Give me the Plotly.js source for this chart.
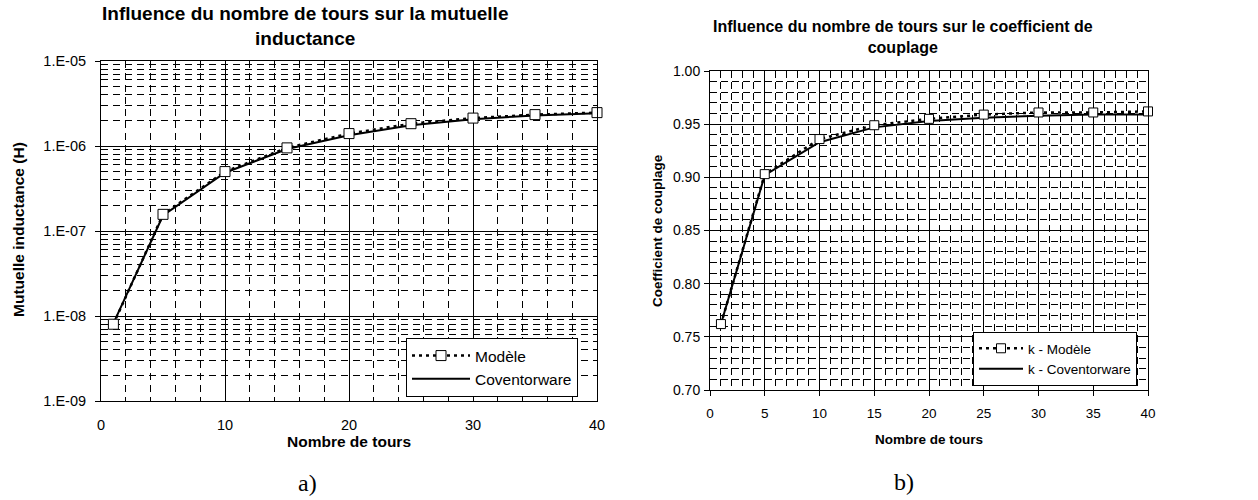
<!DOCTYPE html>
<html>
<head>
<meta charset="utf-8">
<script src="https://cdn.plot.ly/plotly-3.0.1.min.js"></script>
<style>
  html, body { margin: 0; padding: 0; background: #fff; }
  #chart { width: 1258px; height: 500px; }
</style>
</head>
<body>
<div id="chart"></div>
<script>
// ---- Data ----
const turns = [1, 5, 10, 15, 20, 25, 30, 35, 40];
const mutualModel = [8.0e-9, 1.57e-7, 5.0e-7, 9.5e-7, 1.40e-6, 1.83e-6, 2.13e-6, 2.34e-6, 2.47e-6];
const mutualCoventor = [8.2e-9, 1.52e-7, 4.85e-7, 9.2e-7, 1.34e-6, 1.75e-6, 2.06e-6, 2.29e-6, 2.43e-6];
const kModel = [0.762, 0.903, 0.936, 0.949, 0.955, 0.959, 0.961, 0.961, 0.962];
const kCoventor = [0.762, 0.902, 0.933, 0.947, 0.953, 0.956, 0.958, 0.959, 0.959];

const logTickVals = [1e-9, 1e-8, 1e-7, 1e-6, 1e-5];
const logTickText = ['1.E-09', '1.E-08', '1.E-07', '1.E-06', '1.E-05'];
const xTicksA = [0, 10, 20, 30, 40];
const xTicksB = [0, 5, 10, 15, 20, 25, 30, 35, 40];
const yTicksB = [0.70, 0.75, 0.80, 0.85, 0.90, 0.95, 1.00];

const seriesNamesA = ['Modèle', 'Coventorware'];
const seriesNamesB = ['k - Modèle', 'k - Coventorware'];
const titleA = 'Influence du nombre de tours sur la mutuelle<br>inductance';
const titleB = 'Influence du nombre de tours sur le coefficient de<br>couplage';
const yTitleA = 'Mutuelle inductance (H)';
const yTitleB = 'Coefficient de couplage';
const xTitle = 'Nombre de tours';
const panelLabels = ['a)', 'b)'];

// ---- Helpers (pixel -> paper) ----
const W = 1258, H = 500;
const px = v => v / W;
const py = v => 1 - v / H;

const FONT = 'Arial, "Liberation Sans", Helvetica, sans-serif';

const modelLine = { color: '#000', width: 2.5, dash: '3px,4px' };
const covLine = { color: '#000', width: 2 };
const sqMarker = s => ({ symbol: 'square', size: s, color: '#fff', line: { color: '#000', width: 1 } });

const traces = [
  { x: turns, y: mutualModel, name: seriesNamesA[0], mode: 'lines+markers', line: modelLine, marker: sqMarker(10), cliponaxis: false, xaxis: 'x', yaxis: 'y', legend: 'legend' },
  { x: turns, y: mutualCoventor, name: seriesNamesA[1], mode: 'lines', line: covLine, xaxis: 'x', yaxis: 'y', legend: 'legend' },
  { x: turns, y: kModel, name: seriesNamesB[0], mode: 'lines+markers', line: modelLine, marker: sqMarker(9), cliponaxis: false, xaxis: 'x2', yaxis: 'y2', legend: 'legend2' },
  { x: turns, y: kCoventor, name: seriesNamesB[1], mode: 'lines', line: covLine, xaxis: 'x2', yaxis: 'y2', legend: 'legend2' }
];
// draw model on top
const ordered = [traces[1], traces[0], traces[3], traces[2]];

const gridDash = '7px,5px';
const common = {
  showline: true, mirror: true, linecolor: '#000', linewidth: 1,
  showgrid: true, gridcolor: '#000', gridwidth: 1,
  zeroline: false, fixedrange: true,
  tickcolor: '#000'
};

const layout = {
  width: W, height: H,
  margin: { l: 0, r: 0, t: 0, b: 0 },
  paper_bgcolor: '#fff', plot_bgcolor: '#fff',
  font: { family: FONT, color: '#000' },
  showlegend: true,
  xaxis: Object.assign({}, common, {
    domain: [px(101), px(597)], anchor: 'y', range: [0, 40],
    tickmode: 'array', tickvals: xTicksA, ticks: '',
    ticklabelstandoff: 11,
    tickfont: { size: 14.5 },
    minor: { dtick: 2, showgrid: true, gridcolor: '#000', gridwidth: 1, griddash: gridDash }
  }),
  yaxis: Object.assign({}, common, {
    domain: [py(401), py(61)], anchor: 'x', type: 'log', range: [-9, -5],
    tickmode: 'array', tickvals: logTickVals, ticktext: logTickText,
    ticks: 'outside', ticklen: 5, ticklabelstandoff: 6,
    tickfont: { size: 14.5 },
    minor: { dtick: 'D1', showgrid: true, gridcolor: '#000', gridwidth: 1, griddash: gridDash }
  }),
  xaxis2: Object.assign({}, common, {
    domain: [px(710), px(1148)], anchor: 'y2', range: [0, 40],
    tickmode: 'array', tickvals: xTicksB, ticks: 'outside', ticklen: 5,
    ticklabelstandoff: 6,
    tickfont: { size: 13.5 },
    minor: { dtick: 1, showgrid: true, gridcolor: '#000', gridwidth: 1, griddash: '7px,4px' }
  }),
  yaxis2: Object.assign({}, common, {
    domain: [py(390), py(71)], anchor: 'x2', range: [0.70, 1.00],
    tickmode: 'array', tickvals: yTicksB, tickformat: '.2f',
    ticks: 'outside', ticklen: 5, ticklabelstandoff: 1,
    tickfont: { size: 14 },
    minor: { dtick: 0.01, showgrid: true, gridcolor: '#000', gridwidth: 1, griddash: '7px,4px' }
  }),
  legend: {
    x: px(406), y: py(338), xanchor: 'left', yanchor: 'top',
    xref: 'paper', yref: 'paper',
    bgcolor: '#fff', bordercolor: '#000', borderwidth: 1,
    font: { size: 15.5, family: FONT }, itemwidth: 58, tracegroupgap: 0,
    traceorder: 'reversed'
  },
  legend2: {
    x: px(973), y: py(332), xanchor: 'left', yanchor: 'top',
    xref: 'paper', yref: 'paper',
    bgcolor: '#fff', bordercolor: '#000', borderwidth: 1,
    font: { size: 13.5, family: FONT }, itemwidth: 44, tracegroupgap: 0,
    traceorder: 'reversed'
  },
  annotations: [
    { text: '<b>' + titleA + '</b>', xref: 'paper', yref: 'paper', x: px(305), y: py(1), xanchor: 'center', yanchor: 'top', showarrow: false, font: { size: 19, family: FONT } },
    { text: '<b>' + titleB + '</b>', xref: 'paper', yref: 'paper', x: px(903), y: py(16), xanchor: 'center', yanchor: 'top', showarrow: false, font: { size: 16, family: FONT } },
    { text: '<b>' + yTitleA + '</b>', xref: 'paper', yref: 'paper', x: px(19), y: py(230), xanchor: 'center', yanchor: 'middle', textangle: -90, showarrow: false, font: { size: 15.5, family: FONT } },
    { text: '<b>' + xTitle + '</b>', xref: 'paper', yref: 'paper', x: px(349), y: py(441), xanchor: 'center', yanchor: 'middle', showarrow: false, font: { size: 15.5, family: FONT } },
    { text: '<b>' + yTitleB + '</b>', xref: 'paper', yref: 'paper', x: px(658), y: py(231), xanchor: 'center', yanchor: 'middle', textangle: -90, showarrow: false, font: { size: 13.5, family: FONT } },
    { text: '<b>' + xTitle + '</b>', xref: 'paper', yref: 'paper', x: px(929), y: py(439), xanchor: 'center', yanchor: 'middle', showarrow: false, font: { size: 13.5, family: FONT } },
    { text: panelLabels[0], xref: 'paper', yref: 'paper', x: px(307), y: py(483), xanchor: 'center', yanchor: 'middle', showarrow: false, font: { size: 24, family: '"Liberation Serif", "Times New Roman", serif' } },
    { text: panelLabels[1], xref: 'paper', yref: 'paper', x: px(904), y: py(482), xanchor: 'center', yanchor: 'middle', showarrow: false, font: { size: 24, family: '"Liberation Serif", "Times New Roman", serif' } }
  ]
};

Plotly.newPlot('chart', ordered, layout, { staticPlot: true, displayModeBar: false });
</script>
</body>
</html>
